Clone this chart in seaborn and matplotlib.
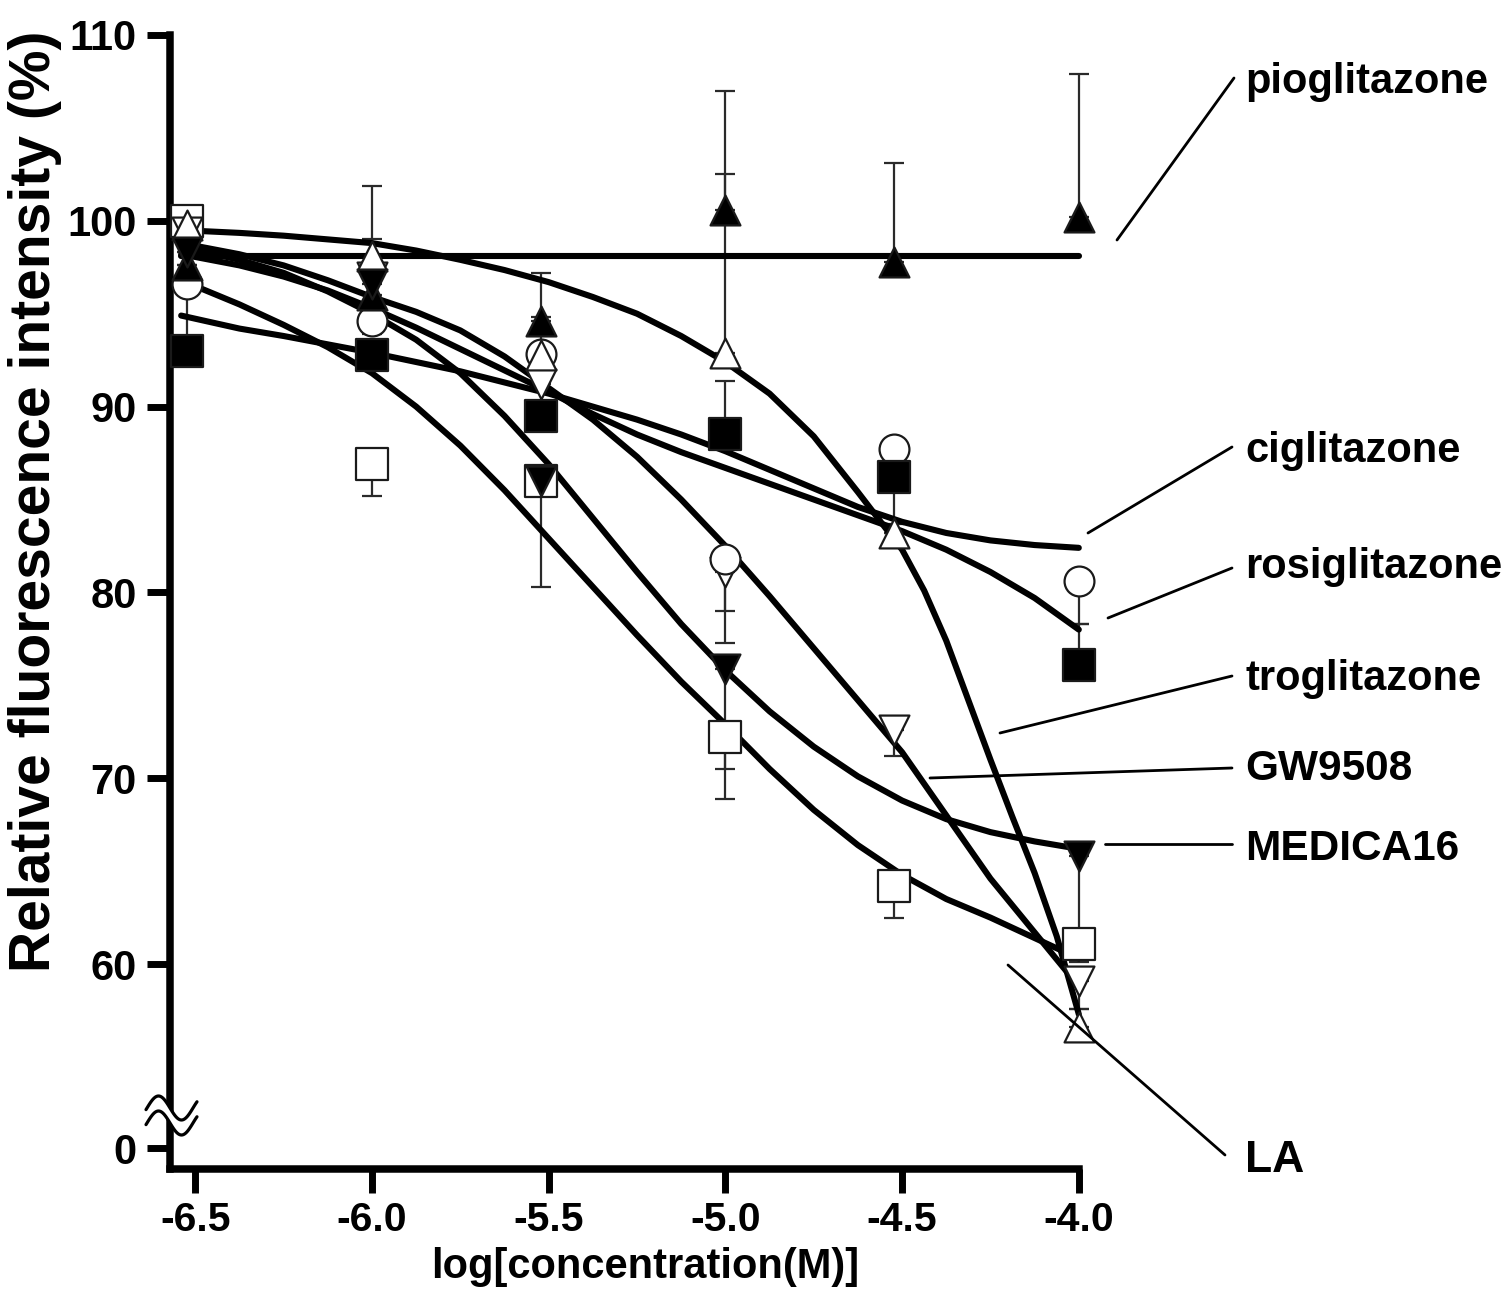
import numpy as np
import matplotlib
matplotlib.use("Agg")
import matplotlib.pyplot as plt
from matplotlib.lines import Line2D
from matplotlib.patches import Polygon
import seaborn as sns

nan = np.nan

# ------------------------------------------------------------------ data
log_conc = [-6.523, -6.0, -5.523, -5.0, -4.523, -4.0]

pio_mean = [97.6, 96.0, 94.6, 100.6, 97.8, 100.2]
pio_lo = [0.0, 2.1, 0.0, 0.0, 0.0, 0.0]
pio_hi = [0.0, 0.0, 2.6, 6.4, 5.3, 7.7]

tro_mean = [99.8, 98.1, 92.8, 92.9, 83.2, 56.6]
tro_lo = [0.0, 0.0, 0.0, 0.0, 0.0, 0.0]
tro_hi = [0.0, 3.8, 0.0, 9.6, 0.0, 1.0]

cig_mean = [93.0, 92.8, 89.5, 88.5, 86.2, 76.1]
cig_lo = [0.0, 0.0, 0.0, 0.0, 2.5, 0.0]
cig_hi = [0.0, 0.0, 0.0, 2.9, 0.0, 2.2]

rosi_mean = [96.6, 94.6, 92.85, 81.8, 87.7, 80.6]
rosi_lo = [2.9, 0.0, 0.0, 2.8, 0.0, 2.3]
rosi_hi = [0.0, 0.0, 2.0, 0.0, 0.0, 0.0]

gw_mean = [99.4, 97.0, 91.2, 81.1, 72.6, 59.1]
gw_lo = [0.0, 0.0, 0.0, 3.8, 1.4, 1.5]
gw_hi = [0.0, 0.0, 0.0, 0.0, 0.0, 0.0]

med_mean = [98.3, 96.6, 86.0, 75.9, nan, 65.8]
med_lo = [0.0, 0.0, 0.0, 5.4, 0.0, 4.5]
med_hi = [0.0, 2.4, 0.0, 0.0, 0.0, 0.0]

la_mean = [100.0, 86.9, 86.0, 72.2, 64.2, 61.1]
la_lo = [0.0, 1.7, 5.7, 3.3, 1.7, 1.0]
la_hi = [0.0, 0.0, 0.0, 0.0, 0.0, 0.0]

# fitted curves
fit_x = [-6.54, -6.375, -6.25, -6.125, -6.0, -5.875, -5.75, -5.625, -5.5, -5.375, -5.25,
         -5.125, -5.0, -4.875, -4.75, -4.625, -4.5, -4.375, -4.25, -4.125, -4.0]
pio_fit_x = [-6.54, -4.0]
pio_fit = [98.1, 98.1]
cig_fit = [94.9, 94.2, 93.8, 93.35, 92.9, 92.4, 91.9, 91.3, 90.7, 90.0, 89.3,
           88.5, 87.6, 86.6, 85.6, 84.6, 83.8, 83.2, 82.8, 82.55, 82.4]
rosi_fit = [98.2, 97.6, 97.0, 96.25, 95.3, 94.25, 93.1, 91.95, 90.8, 89.6, 88.5,
            87.55, 86.7, 85.85, 85.0, 84.15, 83.3, 82.3, 81.1, 79.7, 78.0]
med_fit = [98.6, 97.9, 97.2, 96.2, 95.0, 93.6, 91.8, 89.5, 86.9, 84.0, 81.1,
           78.3, 75.8, 73.6, 71.7, 70.1, 68.8, 67.8, 67.1, 66.6, 66.2]
la_fit = [96.8, 95.5, 94.4, 93.2, 91.8, 90.0, 87.9, 85.5, 82.9, 80.3, 77.7,
          75.2, 72.9, 70.5, 68.3, 66.4, 64.8, 63.5, 62.5, 61.4, 60.3]
gw_fit = [98.8, 98.2, 97.6, 96.8, 95.9, 95.1, 94.1, 92.7, 91.0, 89.3, 87.3,
          85.0, 82.5, 79.8, 77.0, 74.2, 71.4, 68.0, 64.6, 61.7, 58.8]
tro_fit_x = [-6.54, -6.375, -6.25, -6.125, -6.0, -5.875, -5.75, -5.625, -5.5, -5.375,
             -5.25, -5.125, -5.0, -4.875, -4.75, -4.625, -4.5, -4.4375, -4.375,
             -4.3125, -4.25, -4.1875, -4.125, -4.0625, -4.0]
tro_fit = [99.5, 99.35, 99.2, 99.0, 98.8, 98.4, 97.9, 97.35, 96.7, 95.9,
           95.0, 93.8, 92.4, 90.7, 88.4, 85.4, 82.3, 80.1, 77.4,
           74.2, 71.0, 67.9, 64.9, 61.5, 57.3]

x_ticks = [-6.5, -6.0, -5.5, -5.0, -4.5, -4.0]
x_ticklabels = ["-6.5", "-6.0", "-5.5", "-5.0", "-4.5", "-4.0"]
y_ticks = [50.1, 60, 70, 80, 90, 100, 110]
y_ticklabels = ["0", "60", "70", "80", "90", "100", "110"]

compound_labels = ["pioglitazone", "ciglitazone", "rosiglitazone", "troglitazone",
                   "GW9508", "MEDICA16", "LA"]

# ------------------------------------------------------------------ style
sns.set_theme(style="ticks")
plt.rcParams["font.family"] = ["Liberation Sans", "DejaVu Sans"]
plt.rcParams["font.weight"] = "bold"
plt.rcParams["axes.labelweight"] = "bold"
plt.rcParams["axes.labelcolor"] = "black"
plt.rcParams["text.color"] = "black"
plt.rcParams["xtick.color"] = "black"
plt.rcParams["ytick.color"] = "black"

W, H = 1507, 1294
fig = plt.figure(figsize=(W / 100, H / 100), dpi=100)
ax_l, ax_r, ax_t, ax_b = 169.5, 1078.8, 35.0, 1169.0
ax = fig.add_axes([ax_l / W, 1 - ax_b / H, (ax_r - ax_l) / W, (ax_b - ax_t) / H])
ax.set_facecolor("white")


def fx(px):
    return px / W


def fy(py):
    return 1 - py / H


# error bars (under everything else)
series = [
    (la_mean, la_lo, la_hi),
    (gw_mean, gw_lo, gw_hi),
    (rosi_mean, rosi_lo, rosi_hi),
    (tro_mean, tro_lo, tro_hi),
    (cig_mean, cig_lo, cig_hi),
    (pio_mean, pio_lo, pio_hi),
    (med_mean, med_lo, med_hi),
]
for mean, lo, hi in series:
    ax.errorbar(log_conc, mean, yerr=[lo, hi], fmt="none", ecolor="#2a2a2a",
                elinewidth=1.6, capsize=7.2, capthick=1.6, zorder=2, clip_on=False)

# fitted curves
curves = [
    (pio_fit_x, pio_fit),
    (tro_fit_x, tro_fit),
    (fit_x, cig_fit),
    (fit_x, rosi_fit),
    (fit_x, med_fit),
    (fit_x, la_fit),
    (fit_x, gw_fit),
]
for cx, cy in curves:
    sns.lineplot(x=cx, y=cy, color="black", linewidth=4.4, estimator=None,
                 sort=False, ax=ax, legend=False, zorder=3, clip_on=False)

# data markers
marker_specs = [
    (la_mean, "s", 23.0, "white"),
    (gw_mean, "v", 21.5, "white"),
    (rosi_mean, "o", 21.5, "white"),
    (tro_mean, "^", 21.5, "white"),
    (cig_mean, "s", 23.0, "black"),
    (pio_mean, "^", 21.5, "black"),
    (med_mean, "v", 21.5, "black"),
]
for i, (mean, mk, ms, fc) in enumerate(marker_specs):
    sns.scatterplot(x=log_conc, y=mean, marker=mk, s=ms ** 2, color=fc,
                    edgecolor="#1a1a1a", linewidth=1.6, ax=ax, legend=False,
                    zorder=4 + 0.1 * i, clip_on=False)

# axes
ax.set_xlim(-6.573, -4.0)
ax.set_ylim(48.97, 110.0)
ax.set_xticks(x_ticks)
ax.set_xticklabels(x_ticklabels)
ax.set_yticks(y_ticks)
ax.set_yticklabels(y_ticklabels)
sns.despine(ax=ax)
for s in ["left", "bottom"]:
    ax.spines[s].set_linewidth(5.4)
    ax.spines[s].set_color("black")
ax.tick_params(axis="both", direction="out", width=5, color="black",
               labelcolor="black")
ax.tick_params(axis="y", length=16.5, pad=7, labelsize=30)
ax.tick_params(axis="x", length=17, pad=6, labelsize=29.5)
for lab in ax.get_xticklabels() + ax.get_yticklabels():
    lab.set_fontweight("bold")
ax.grid(False)

ax.set_xlabel("log[concentration(M)]", fontsize=30, fontweight="bold", color="black")
ax.xaxis.label.set_va("center")
ax.xaxis.set_label_coords((645 - ax_l) / (ax_r - ax_l), (ax_b - 1267) / (ax_b - ax_t))
ax.set_ylabel("Relative fluorescence intensity (%)", fontsize=41, fontweight="bold",
              color="black")
ax.yaxis.label.set_va("center")
ax.yaxis.set_label_coords((35.5 - ax_l) / (ax_r - ax_l), (ax_b - 501) / (ax_b - ax_t))

# axis break symbol
wx = np.linspace(146, 197, 80)
wave_up = 1108 - 12 * np.sin(2 * np.pi * (wx - 147) / 46)
wave_dn = wave_up + 15
band = np.column_stack([np.r_[fx(wx), fx(wx[::-1])], np.r_[fy(wave_up), fy(wave_dn[::-1])]])
fig.add_artist(Polygon(band, closed=True, facecolor="white", edgecolor="none",
                       transform=fig.transFigure, zorder=5))
for wy in (wave_up, wave_dn):
    fig.add_artist(Line2D(fx(wx), fy(wy), color="black", lw=2.3,
                          transform=fig.transFigure, zorder=6))

# leader lines and compound labels
leaders = [
    ((1117, 240), (1234, 78)),
    ((1088, 533), (1232, 447)),
    ((1108, 618), (1232, 568)),
    ((1000, 733), (1232, 676)),
    ((930, 778), (1232, 768)),
    ((1105, 844), (1232, 844)),
    ((1008, 965), (1225, 1155)),
]
for (x0, y0), (x1, y1) in leaders:
    fig.add_artist(Line2D([fx(x0), fx(x1)], [fy(y0), fy(y1)], color="black",
                          lw=2.0, transform=fig.transFigure, zorder=6))

label_baselines = [93, 462, 578, 690, 780, 860, 1172]
label_sizes = [30, 30, 30, 30, 30.5, 30.5, 32]
for txt, by, fs in zip(compound_labels, label_baselines, label_sizes):
    fig.text(fx(1245), fy(by), txt, fontsize=fs, fontweight="bold",
             ha="left", va="baseline", color="black")

fig.savefig("out.png", dpi=100, facecolor="white")
